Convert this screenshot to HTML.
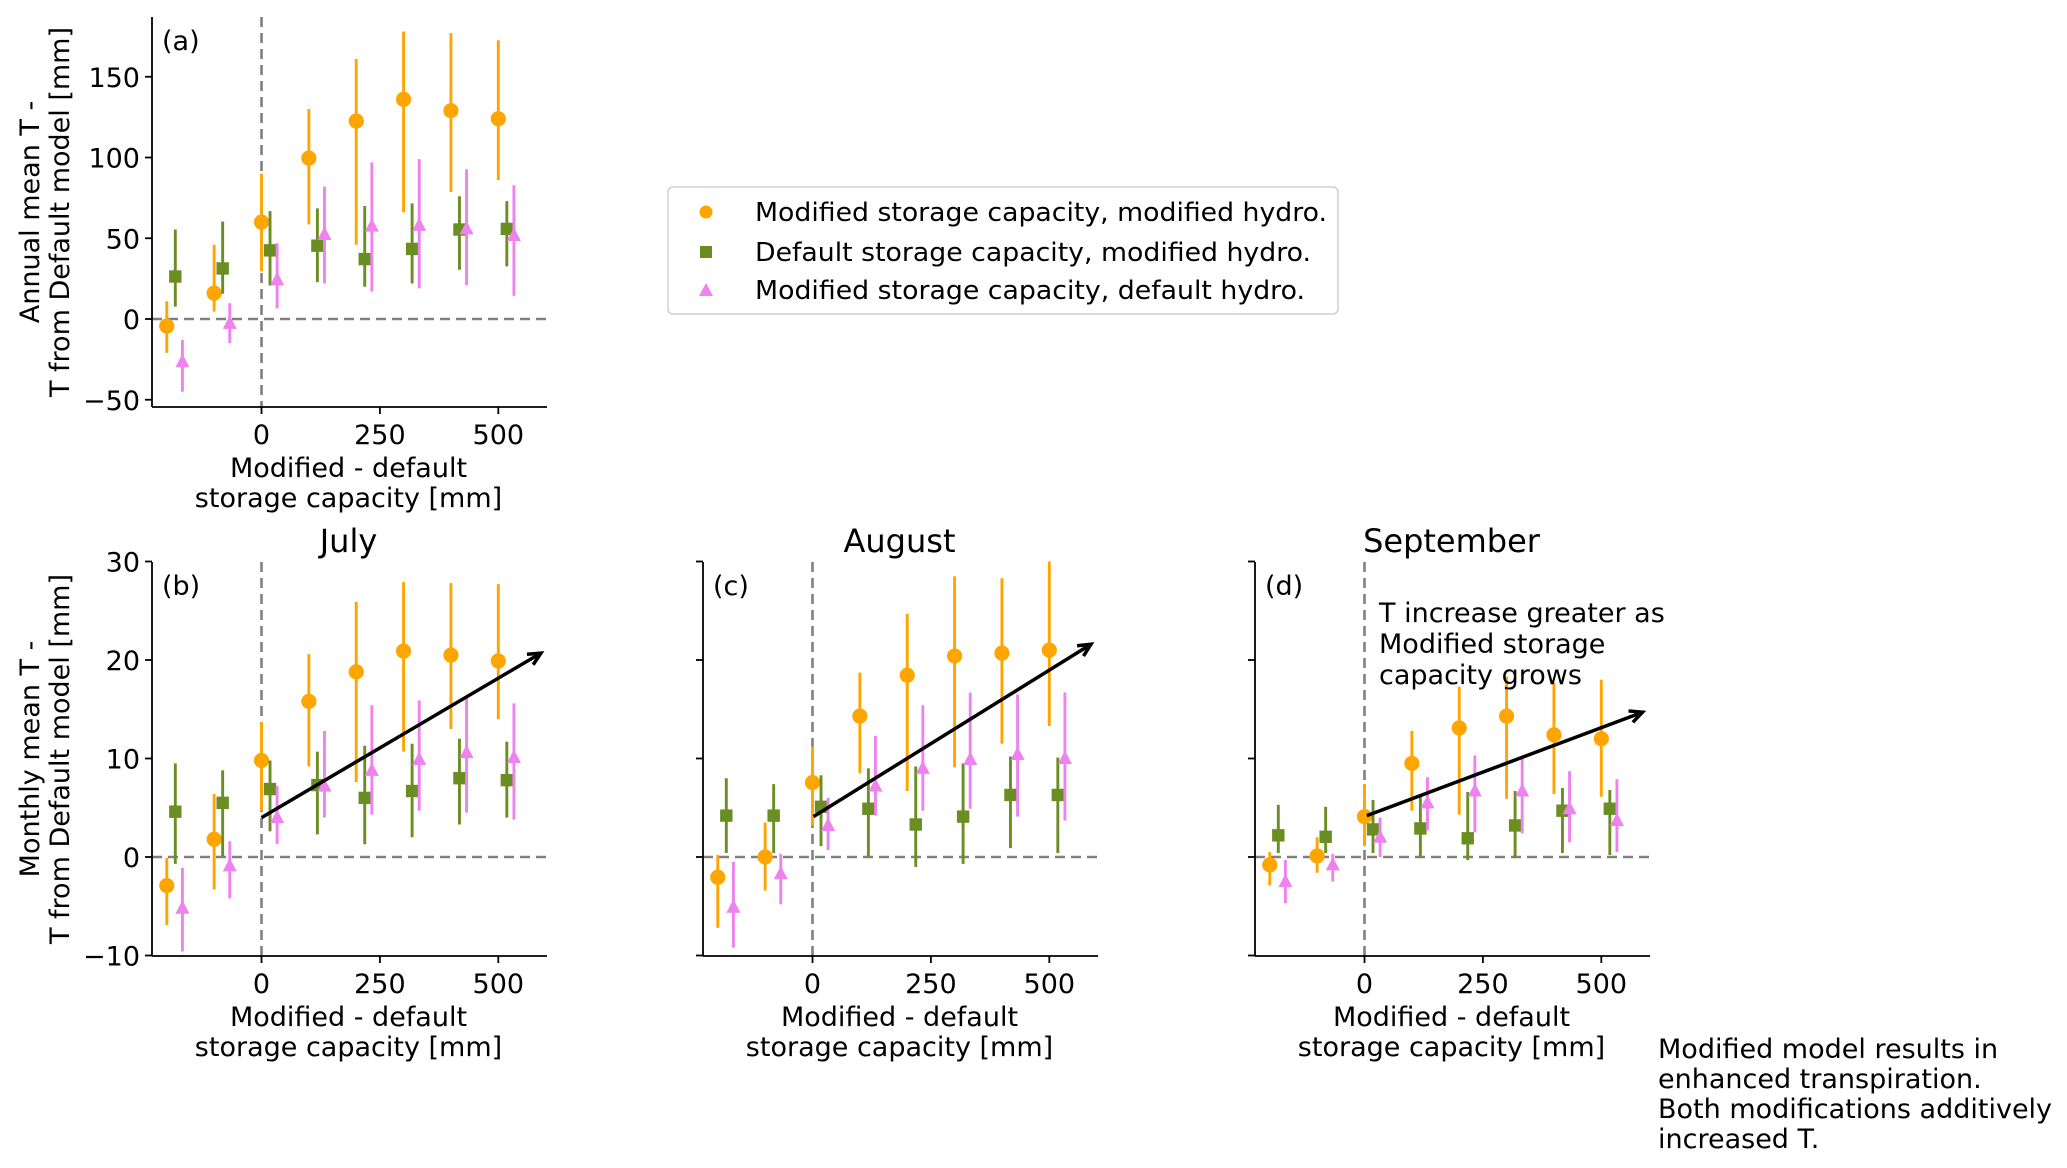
<!DOCTYPE html>
<html><head><meta charset="utf-8"><style>
html,body{margin:0;padding:0;background:#fff;}
svg{display:block;font-family:"DejaVu Sans","Liberation Sans",sans-serif;}
</style></head><body>
<svg id="fig" width="2067" height="1168" viewBox="0 0 2067 1168" xmlns="http://www.w3.org/2000/svg">
<g>
<rect x="668" y="187" width="670" height="127" rx="5" fill="#fff" stroke="#d0d0d0" stroke-width="1.5"/>
<circle cx="706" cy="212" r="6.5" fill="#FFA500"/>
<rect x="700" y="246" width="12" height="12" fill="#6B8E23"/>
<polygon points="706,283 713,296 699,296" fill="#EE82EE"/>
<text x="755" y="221" font-size="26" textLength="572" lengthAdjust="spacingAndGlyphs">Modified storage capacity, modified hydro.</text>
<text x="755" y="261" font-size="26" textLength="556" lengthAdjust="spacingAndGlyphs">Default storage capacity, modified hydro.</text>
<text x="755" y="299" font-size="26" textLength="550" lengthAdjust="spacingAndGlyphs">Modified storage capacity, default hydro.</text>
</g>
<g font-size="27">
<text x="1658" y="1058">Modified model results in</text>
<text x="1658" y="1088">enhanced transpiration.</text>
<text x="1658" y="1118">Both modifications additively</text>
<text x="1658" y="1148">increased T.</text>
</g>
</svg>
<script>
const xCats = [-200,-100,0,100,200,300,400,500];
// Panel (a) annual
const aOrange = [-4.4,16,60,99.6,122.6,136,129,124];
const aOrangeLo = [-21,4.6,29.5,58.5,46,66,78.6,86];
const aOrangeHi = [11,46,90,130,161,178,177,172.6];
const aGreen = [26.3,31.3,42.5,45.4,37.1,43.4,55.4,55.8];
const aGreenLo = [7.7,15.6,20.7,22.8,20,22,30.5,32.6];
const aGreenHi = [55.4,60.4,66.8,68.5,70,71.6,76,73];
const aPink = [-26.5,-2.7,24.3,52.3,57.5,58,55.8,51.7];
const aPinkLo = [-45,-15,6.6,22,17,19,21,14.3];
const aPinkHi = [-13,9.8,47,82,97,99,92.7,82.8];
// Panel (b) July
const bOrange = [-2.9,1.8,9.8,15.8,18.8,20.9,20.5,19.9];
const bOrangeLo = [-6.9,-3.3,4.7,9.2,7.6,10.7,13,14];
const bOrangeHi = [-0.1,6.4,13.7,20.6,25.9,27.9,27.8,27.7];
const bGreen = [4.6,5.5,6.9,7.3,6,6.7,8,7.8];
const bGreenLo = [-0.7,0.1,2.6,2.3,1.3,2,3.3,4];
const bGreenHi = [9.5,8.8,9.8,10.7,11.3,11.5,12,11.7];
const bPink = [-5.2,-0.9,4,7.2,8.8,9.9,10.6,10.1];
const bPinkLo = [-9.6,-4.2,1.3,4,4.3,4.7,4.5,3.8];
const bPinkHi = [-1.1,1.6,7.2,12.8,15.4,15.9,16.2,15.6];
const bArrow = [0,4.0,590,20.7];
// Panel (c) August
const cOrange = [-2.05,0,7.55,14.3,18.45,20.4,20.7,21];
const cOrangeLo = [-7.2,-3.4,3.2,8.5,6.7,9.1,11.5,13.3];
const cOrangeHi = [0.2,3.5,11.2,18.7,24.7,28.5,28.3,30];
const cGreen = [4.2,4.2,5.1,4.9,3.3,4.1,6.3,6.3];
const cGreenLo = [0.4,0.4,1.1,0,-1,-0.7,0.9,0.4];
const cGreenHi = [8,7.4,8.3,9,9.2,9.5,10.2,10.1];
const cPink = [-5.1,-1.7,3.2,7.2,9,9.9,10.4,10];
const cPinkLo = [-9.2,-4.8,0.7,4.2,4.7,4.9,4.1,3.7];
const cPinkHi = [-0.5,0.3,6,12.3,15.4,16.7,16.5,16.7];
const cArrow = [2,4.1,588,21.6];
// Panel (d) September
const dOrange = [-0.8,0.1,4.1,9.5,13.1,14.3,12.4,12];
const dOrangeLo = [-2.9,-1.6,1.1,4.7,4.3,5.9,6.4,6.1];
const dOrangeHi = [0.5,2,7.4,12.8,17.3,18.3,17.7,18];
const dGreen = [2.2,2.05,2.8,2.9,1.9,3.2,4.7,4.9];
const dGreenLo = [0.4,0.4,0.4,0,-0.3,-0.1,0.4,0.2];
const dGreenHi = [5.3,5.1,5.8,6.4,6.6,6.7,7,6.8];
const dPink = [-2.5,-0.8,2,5.5,6.7,6.7,4.9,3.7];
const dPinkLo = [-4.7,-2.5,0,2.7,2.5,2.4,1.5,0.5];
const dPinkHi = [-0.3,0.3,4,8.1,10.3,10.2,8.7,7.9];
const dArrow = [5,4.2,587,14.7];
const xTicks = [0,250,500];
const aYTicks = [-50,0,50,100,150];
const mYTicks = [-10,0,10,20,30];

const NS = "http://www.w3.org/2000/svg";
const svg = document.getElementById('fig');
function mk(tag, attrs, parent){
  const e = document.createElementNS(NS, tag);
  for (const k in attrs) e.setAttribute(k, attrs[k]);
  (parent||svg).appendChild(e);
  return e;
}
const OR="#FFA500", GR="#6B8E23", PK="#EE82EE";

function panel(cfg){
  const g = mk('g', {});
  
  
  const L=cfg.left, R=cfg.left+395, T=cfg.top, B=cfg.bottom;
  const x0 = L+109.5, kx = 0.4736;
  const X = v => x0 + v*kx;
  const Y = v => cfg.y0 - v*cfg.ky;
  const hz = mk('line', {x1:L, x2:R, y1:Y(0), y2:Y(0), stroke:'#808080', 'stroke-width':2.6, 'stroke-dasharray':'10,6'}, g);
  
  
  const vz = mk('line', {x1:X(0), x2:X(0), y1:T, y2:B, stroke:'#808080', 'stroke-width':2.6, 'stroke-dasharray':'10,6'}, g);
  
  
  const series = [
    {v:cfg.o, lo:cfg.oLo, hi:cfg.oHi, c:OR, dx:0, m:'circle', n:'orange'},
    {v:cfg.g, lo:cfg.gLo, hi:cfg.gHi, c:GR, dx:18, m:'square', n:'green'},
    {v:cfg.p, lo:cfg.pLo, hi:cfg.pHi, c:PK, dx:33, m:'triangle', n:'pink'}
  ];
  series.forEach(s => {
    xCats.forEach((xc, i) => {
      const px = X(xc + s.dx);
      const eb = mk('line', {x1:px, x2:px, y1:Y(s.lo[i]), y2:Y(s.hi[i]), stroke:s.c, 'stroke-width':2.9}, g);
      
      
      const py = Y(s.v[i]);
      let mkEl;
      if (s.m === 'circle') mkEl = mk('circle', {cx:px, cy:py, r:7.6, fill:s.c}, g);
      else if (s.m === 'square') mkEl = mk('rect', {x:px-6.2, y:py-6.2, width:12.4, height:12.4, fill:s.c}, g);
      else mkEl = mk('polygon', {points:`${px},${py-8} ${px+7},${py+5.5} ${px-7},${py+5.5}`, fill:s.c}, g);
      
      
    });
  });
  if (cfg.arrow) {
    const a = cfg.arrow;
    const xa=X(a[0]), ya=Y(a[1]), xb=X(a[2]), yb=Y(a[3]);
    const ar = mk('line', {x1:xa, y1:ya, x2:xb, y2:yb, stroke:'#000', 'stroke-width':3.5}, g);
    
    
    const ang = Math.atan2(yb-ya, xb-xa), hl=14, ha=0.45;
    const hd = mk('polyline', {points:`${xb-hl*Math.cos(ang-ha)},${yb-hl*Math.sin(ang-ha)} ${xb},${yb} ${xb-hl*Math.cos(ang+ha)},${yb-hl*Math.sin(ang+ha)}`, fill:'none', stroke:'#000', 'stroke-width':3.5}, g);
    
    
  }
  const ls = mk('line', {x1:L, x2:L, y1:T, y2:B, stroke:'#000', 'stroke-width':1.8}, g);
  
  
  const bs = mk('line', {x1:L, x2:R, y1:B, y2:B, stroke:'#000', 'stroke-width':1.8}, g);
  
  
  cfg.yTicks.forEach(t => {
    const ty = Y(t);
    const tk = mk('line', {x1:L-7, x2:L, y1:ty, y2:ty, stroke:'#000', 'stroke-width':1.8}, g);
    
    
    if (cfg.yLabels) {
      const tl = mk('text', {x:L-12, y:ty+10, 'font-size':27, 'text-anchor':'end'}, g);
      tl.textContent = t < 0 ? '\u2212' + Math.abs(t) : String(t);
      
      
    }
  });
  xTicks.forEach(t => {
    const tx = X(t);
    const tk = mk('line', {x1:tx, x2:tx, y1:B, y2:B+7, stroke:'#000', 'stroke-width':1.8}, g);
    
    
    const tl = mk('text', {x:tx, y:B+37, 'font-size':27, 'text-anchor':'middle'}, g);
    tl.textContent = String(t);
    
    
  });
  const cx = (L+R)/2 - 1;
  const xl1 = mk('text', {x:cx, y:B+70, 'font-size':27, 'text-anchor':'middle'}, g);
  xl1.textContent = 'Modified - default';
  
  
  const xl2 = mk('text', {x:cx, y:B+100, 'font-size':27, 'text-anchor':'middle'}, g);
  xl2.textContent = 'storage capacity [mm]';
  
  
  const pl = mk('text', {x:L+10, y:T+33, 'font-size':27}, g);
  pl.textContent = cfg.label;
  
  
  if (cfg.title) {
    const tt = mk('text', {x:cx, y:T-10, 'font-size':32, 'text-anchor':'middle'}, g);
    tt.textContent = cfg.title;
    
    
  }
  if (cfg.ylab) {
    const my = (T+B)/2;
    const y1 = mk('text', {x:0, y:0, 'font-size':27, 'text-anchor':'middle', transform:`translate(39,${my}) rotate(-90)`}, g);
    y1.textContent = cfg.ylab[0];
    
    
    const y2 = mk('text', {x:0, y:0, 'font-size':27, 'text-anchor':'middle', transform:`translate(69,${my}) rotate(-90)`}, g);
    y2.textContent = cfg.ylab[1];
    
    
  }
  return {X, Y, g};
}

panel({name:'panel-a-annual', left:152, top:17, bottom:407, y0:319, ky:1.615, yTicks:aYTicks, yLabels:true,
  o:aOrange,oLo:aOrangeLo,oHi:aOrangeHi,g:aGreen,gLo:aGreenLo,gHi:aGreenHi,p:aPink,pLo:aPinkLo,pHi:aPinkHi,
  label:'(a)', ylab:['Annual mean T -','T from Default model [mm]']});
panel({name:'panel-b-july', left:152, top:562, bottom:956, y0:857, ky:9.85, yTicks:mYTicks, yLabels:true,
  o:bOrange,oLo:bOrangeLo,oHi:bOrangeHi,g:bGreen,gLo:bGreenLo,gHi:bGreenHi,p:bPink,pLo:bPinkLo,pHi:bPinkHi,
  arrow:bArrow, label:'(b)', title:'July', ylab:['Monthly mean T -','T from Default model [mm]']});
panel({name:'panel-c-august', left:703, top:562, bottom:956, y0:857, ky:9.85, yTicks:mYTicks, yLabels:false,
  o:cOrange,oLo:cOrangeLo,oHi:cOrangeHi,g:cGreen,gLo:cGreenLo,gHi:cGreenHi,p:cPink,pLo:cPinkLo,pHi:cPinkHi,
  arrow:cArrow, label:'(c)', title:'August'});
const pd = panel({name:'panel-d-september', left:1255, top:562, bottom:956, y0:857, ky:9.85, yTicks:mYTicks, yLabels:false,
  o:dOrange,oLo:dOrangeLo,oHi:dOrangeHi,g:dGreen,gLo:dGreenLo,gHi:dGreenHi,p:dPink,pLo:dPinkLo,pHi:dPinkHi,
  arrow:dArrow, label:'(d)', title:'September'});
const ann = mk('text', {x:1379, y:0, 'font-size':27}, pd.g);


['T increase greater as','Modified storage','capacity grows'].forEach((s,i)=>{
  const ts = mk('tspan', {x:1379, y:622+i*31}, ann);
  ts.textContent = s;
});
</script>
</body></html>
